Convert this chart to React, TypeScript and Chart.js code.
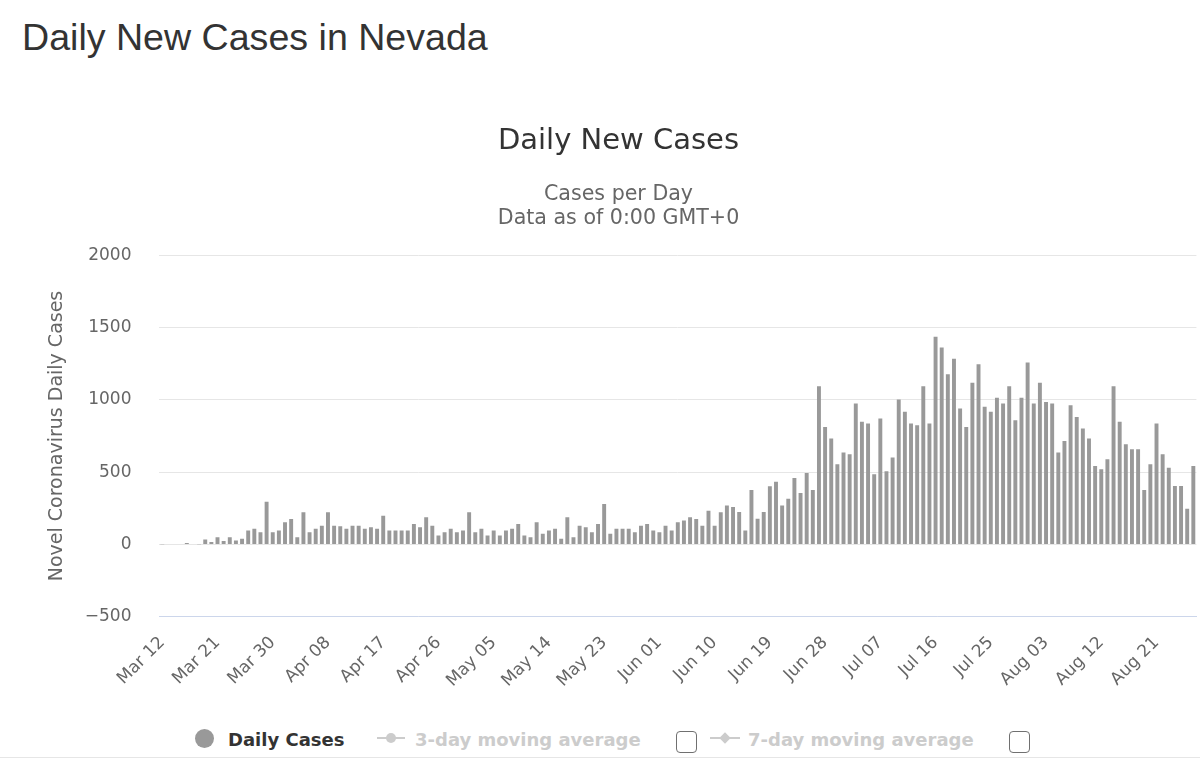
import React, { useEffect, useRef } from "react";
import { Chart, registerables } from "chart.js";

Chart.register(...registerables);

const START_DATE = "2020-03-12";
const DAY_COUNT = 169;
const MONTHS = ["Jan", "Feb", "Mar", "Apr", "May", "Jun", "Jul", "Aug", "Sep", "Oct", "Nov", "Dec"];

function buildCategories(): string[] {
  const out: string[] = [];
  const d = new Date(START_DATE + "T00:00:00Z");
  for (let i = 0; i < DAY_COUNT; i++) {
    const cur = new Date(d.getTime() + i * 86400000);
    const dd = String(cur.getUTCDate()).padStart(2, "0");
    out.push(MONTHS[cur.getUTCMonth()] + " " + dd);
  }
  return out;
}

const CATEGORIES = buildCategories();

const TICK_LABELS = [
  "Mar 12", "Mar 21", "Mar 30", "Apr 08", "Apr 17", "Apr 26", "May 05", "May 14", "May 23",
  "Jun 01", "Jun 10", "Jun 19", "Jun 28", "Jul 07", "Jul 16", "Jul 25", "Aug 03", "Aug 12", "Aug 21",
];

const Y_TICKS = [-500, 0, 500, 1000, 1500, 2000];

// Mar 12 - Apr 24
const CASES_MAR_APR = [
  1, 0, 0, 0, 10, 0, 2, 34, 16, 50, 23, 50, 27, 39, 96, 108, 85, 295, 85, 96,
  153, 176, 50, 222, 85, 108, 130, 222, 130, 126, 108, 130, 130, 108, 119, 108, 199, 96, 96, 96,
  96, 142, 119, 188,
];
// Apr 25 - Jun 10
const CASES_APR_JUN = [
  130, 62, 85, 108, 85, 96, 222, 85, 108, 62, 96, 62, 96, 108, 142, 62, 50, 153, 73, 96,
  108, 39, 188, 50, 130, 119, 85, 142, 279, 73, 108, 108, 108, 85, 130, 142, 96, 85, 130, 96,
  153, 165, 188, 176, 130, 233, 130, 222,
];
// Jun 11 - Jul 21
const CASES_JUN_JUL = [
  270, 259, 224, 97, 377, 178, 224, 402, 434, 270, 316, 460, 356, 494, 377, 1095, 813, 732, 554, 635,
  624, 975, 848, 836, 485, 871, 506, 601, 1003, 917, 836, 825, 1095, 836, 1437, 1363, 1178, 1285, 940,
];
// Jul 22 - Aug 27
const CASES_JUL_AUG = [
  813, 1118, 1247, 952, 917, 1014, 975, 1095, 859, 1014, 1259, 975, 1118, 986, 975, 635, 716, 963, 882, 802,
  732, 543, 520, 589, 1095, 848, 693, 658, 658, 377, 554, 836, 624, 531, 404, 404, 247, 543,
];

const DAILY_CASES = [...CASES_MAR_APR, ...CASES_APR_JUN, ...CASES_JUN_JUL, ...CASES_JUL_AUG];

const FONT = '"DejaVu Sans", "Lucida Grande", sans-serif';

function ChartCanvas() {
  const ref = useRef<HTMLCanvasElement | null>(null);
  useEffect(() => {
    if (!ref.current) return;
    const chart = new Chart(ref.current, {
      type: "bar",
      data: {
        labels: CATEGORIES,
        datasets: [
          {
            label: "Daily Cases",
            data: DAILY_CASES,
            backgroundColor: "#999999",
            borderWidth: 0,
            categoryPercentage: 0.8,
            barPercentage: 0.8,
          },
        ],
      },
      options: {
        animation: false,
        responsive: false,
        maintainAspectRatio: false,
        layout: { padding: { top: 0, left: 40.6, right: 3.6, bottom: 0 } },
        plugins: {
          legend: { display: false },
          tooltip: { enabled: false },
          title: {
            display: true,
            text: "Daily New Cases",
            color: "#333333",
            font: { family: FONT, size: 29, weight: "normal", lineHeight: 1.2 },
            padding: { top: 24, bottom: 0 },
          },
          subtitle: {
            display: true,
            text: ["Cases per Day", "Data as of 0:00 GMT+0"],
            color: "#666666",
            font: { family: FONT, size: 20.6, weight: "normal", lineHeight: 1.165 },
            padding: { top: 23.5, bottom: 25 },
          },
        },
        scales: {
          x: {
            grid: { display: false, drawTicks: false },
            border: { display: true, color: "#ccd6eb", width: 1 },
            ticks: {
              autoSkip: false,
              minRotation: 45,
              maxRotation: 45,
              padding: 16,
              color: "#666666",
              font: { family: FONT, size: 17 },
              callback: (_v: any, i: number) => (TICK_LABELS.includes(CATEGORIES[i]) ? CATEGORIES[i] : ""),
            },
            afterFit: (scale: any) => {
              scale.height = 93.3;
              scale.paddingLeft = 0;
              scale.paddingRight = 0;
            },
          },
          y: {
            min: Y_TICKS[0],
            max: Y_TICKS[Y_TICKS.length - 1],
            afterBuildTicks: (scale: any) => {
              scale.ticks = Y_TICKS.map((v) => ({ value: v }));
            },
            grid: { color: "#e6e6e6", lineWidth: 1, drawTicks: false },
            border: { display: false },
            ticks: {
              padding: 27.7,
              color: "#666666",
              font: { family: FONT, size: 17 },
              callback: (v: any) => (Number(v) < 0 ? "\u2212" + Math.abs(Number(v)) : String(v)),
            },
            title: {
              display: true,
              text: "Novel Coronavirus Daily Cases",
              color: "#666666",
              font: { family: FONT, size: 19, lineHeight: 1.2 },
              padding: { top: 4.7, bottom: 0 },
            },
            afterFit: (scale: any) => {
              scale.width = 118.6;
            },
          },
        },
      },
    });
    return () => chart.destroy();
  }, []);
  return (
    <canvas
      ref={ref}
      width={1200}
      height={610}
      style={{ position: "absolute", top: 100, left: 0, width: 1200, height: 610 }}
    />
  );
}

const legendText: React.CSSProperties = {
  position: "absolute",
  fontFamily: FONT,
  fontSize: 18,
  fontWeight: "bold",
  lineHeight: "18px",
  whiteSpace: "nowrap",
  top: 730.8,
};

const checkboxStyle: React.CSSProperties = {
  position: "absolute",
  top: 731,
  width: 21,
  height: 22,
  margin: 0,
  boxSizing: "border-box",
  border: "1.5px solid #707070",
  borderRadius: 4,
  background: "#fff",
  appearance: "none",
  WebkitAppearance: "none",
};

export default function App() {
  return (
    <div
      style={{
        position: "absolute",
        top: 0,
        left: 0,
        width: 1200,
        height: 759,
        background: "#ffffff",
        overflow: "hidden",
      }}
    >
      <div
        style={{
          position: "absolute",
          top: 19,
          left: 22,
          fontFamily: '"Liberation Sans", Arial, sans-serif',
          fontSize: 37.6,
          lineHeight: "37px",
          color: "#333333",
          whiteSpace: "nowrap",
        }}
      >
        Daily New Cases in Nevada
      </div>
      <ChartCanvas />
      {/* legend */}
      <div style={{ position: "absolute", left: 195, top: 729, width: 19, height: 19, borderRadius: "50%", background: "#999999" }} />
      <div style={{ ...legendText, left: 228, color: "#333333" }}>Daily Cases</div>

      <div style={{ position: "absolute", left: 377, top: 737, width: 28, height: 2, background: "#cccccc" }} />
      <div style={{ position: "absolute", left: 386, top: 733, width: 10, height: 10, borderRadius: "50%", background: "#cccccc" }} />
      <div style={{ ...legendText, left: 415, color: "#cccccc" }}>3-day moving average</div>
      <input type="checkbox" readOnly style={{ ...checkboxStyle, left: 676 }} />

      <div style={{ position: "absolute", left: 710, top: 737, width: 30, height: 2, background: "#cccccc" }} />
      <div style={{ position: "absolute", left: 721, top: 734, width: 8, height: 8, background: "#cccccc", transform: "rotate(45deg)" }} />
      <div style={{ ...legendText, left: 748, color: "#cccccc" }}>7-day moving average</div>
      <input type="checkbox" readOnly style={{ ...checkboxStyle, left: 1009 }} />

      <div style={{ position: "absolute", left: 0, top: 757, width: 1200, height: 1, background: "#e6e6e6" }} />
    </div>
  );
}
